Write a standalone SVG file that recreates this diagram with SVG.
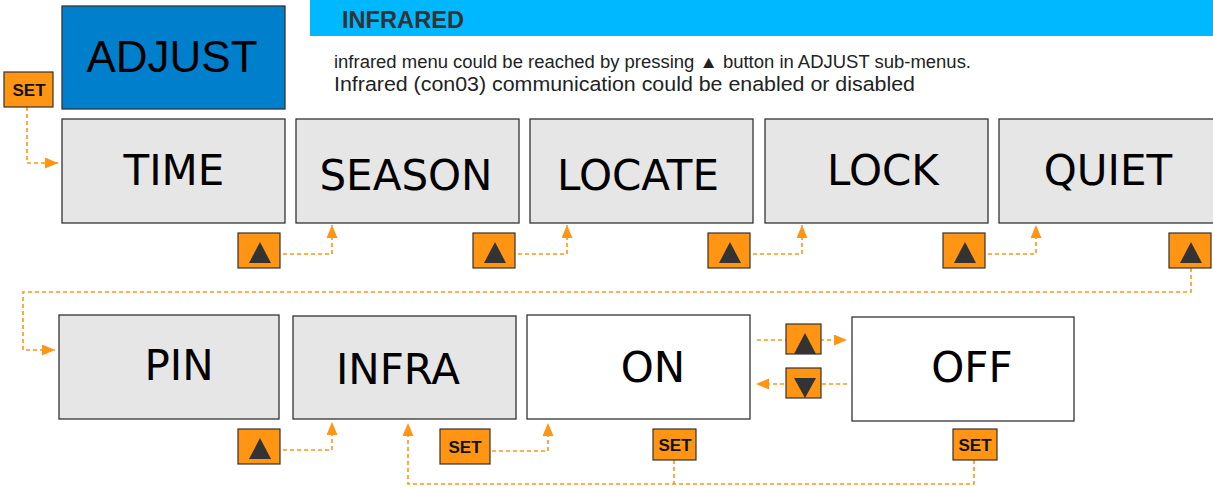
<svg xmlns="http://www.w3.org/2000/svg" width="1213" height="488" viewBox="0 0 1213 488">
<style>
.box{fill:#E6E6E6;stroke:#333;stroke-width:1.3}
.wbox{fill:#FFFFFF;stroke:#333;stroke-width:1.3}
.lbl{font-family:"DejaVu Sans",sans-serif;font-size:42px;fill:#000;text-anchor:middle}
.btn{fill:#FF9512;stroke:#333;stroke-width:1.2}
.tri{fill:#333}
.settxt{font-family:"Liberation Sans",Arial,sans-serif;font-weight:bold;font-size:17px;fill:#111;text-anchor:middle}
.con{fill:none;stroke:#FF9512;stroke-width:1.6;stroke-dasharray:4 3}
</style>
<defs>
<marker id="ah" markerUnits="userSpaceOnUse" markerWidth="14" markerHeight="12" refX="13" refY="5.5" orient="auto">
<path d="M0,0 L13,5.5 L0,11 z" fill="#FF9512"/>
</marker>
</defs>
<rect width="1213" height="488" fill="#FFFFFF"/>

<g id="header">
<rect x="310" y="0" width="903" height="36" fill="#00B8FF"/>
<text x="342" y="28" font-family="Liberation Sans, Arial, sans-serif" font-weight="bold" font-size="23" fill="#333" textLength="122" lengthAdjust="spacingAndGlyphs">INFRARED</text>
<text x="334" y="68" font-family="Liberation Sans, Arial, sans-serif" font-size="17.5" fill="#222" textLength="637" lengthAdjust="spacingAndGlyphs">infrared menu could be reached by pressing ▲ button in ADJUST sub-menus.</text>
<text x="334" y="91" font-family="Liberation Sans, Arial, sans-serif" font-size="20.5" fill="#222" textLength="581" lengthAdjust="spacingAndGlyphs">Infrared (con03) communication could be enabled or disabled</text>
</g>

<g id="connectors">
<path class="con" d="M27,107 V163 H58" marker-end="url(#ah)"/>
<path class="con" d="M283,254 H332 V225" marker-end="url(#ah)"/>
<path class="con" d="M518,254 H567 V225" marker-end="url(#ah)"/>
<path class="con" d="M753,254 H802 V225" marker-end="url(#ah)"/>
<path class="con" d="M988,254 H1036 V225" marker-end="url(#ah)"/>
<path class="con" d="M1191,268 V292 H23 V350 H55" marker-end="url(#ah)"/>
<path class="con" d="M283,450 H332 V422" marker-end="url(#ah)"/>
<path class="con" d="M492,451 H548 V423" marker-end="url(#ah)"/>
<path class="con" d="M974,460 V484 H408 V423" marker-end="url(#ah)"/>
<path class="con" d="M674,460 V484"/>
<path class="con" d="M757,340 H847" marker-end="url(#ah)"/>
<path class="con" d="M847,384 H756" marker-end="url(#ah)"/>
</g>

<g id="adjust">
<rect x="62" y="6" width="223" height="103" fill="#0080CC" stroke="#333" stroke-width="1.3"/>
<text x="172" y="72" font-family="Liberation Sans, Arial, sans-serif" font-size="44" fill="#000" text-anchor="middle">ADJUST</text>
</g>

<g id="set-adjust">
<rect class="btn" x="4" y="72" width="49" height="35"/>
<text class="settxt" x="29" y="96">SET</text>
</g>

<g id="time"><rect class="box" x="62" y="119" width="223" height="104"/><text class="lbl" x="174" y="185">TIME</text></g>
<g id="season"><rect class="box" x="296" y="119" width="223" height="104"/><text class="lbl" x="406" y="190" font-size="43">SEASON</text></g>
<g id="locate"><rect class="box" x="530" y="119" width="223" height="104"/><text class="lbl" x="638" y="190" font-size="43">LOCATE</text></g>
<g id="lock"><rect class="box" x="765" y="119" width="223" height="104"/><text class="lbl" x="883" y="185">LOCK</text></g>
<g id="quiet"><rect class="box" x="999" y="119" width="225" height="104"/><text class="lbl" x="1108" y="185">QUIET</text></g>

<g id="up1"><rect class="btn" x="238" y="233" width="42" height="35"/><polygon class="tri" points="260,242 271,263 249,263"/></g>
<g id="up2"><rect class="btn" x="473" y="233" width="42" height="35"/><polygon class="tri" points="495,242 506,263 484,263"/></g>
<g id="up3"><rect class="btn" x="708" y="233" width="42" height="35"/><polygon class="tri" points="730,242 741,263 719,263"/></g>
<g id="up4"><rect class="btn" x="943" y="233" width="42" height="35"/><polygon class="tri" points="965,242 976,263 954,263"/></g>
<g id="up5"><rect class="btn" x="1169" y="233" width="42" height="35"/><polygon class="tri" points="1191,242 1202,263 1180,263"/></g>

<g id="pin"><rect class="box" x="59" y="315" width="220" height="104"/><text class="lbl" x="179" y="380">PIN</text></g>
<g id="infra"><rect class="box" x="293" y="316" width="223" height="103"/><text class="lbl" x="398" y="384">INFRA</text></g>
<g id="on"><rect class="wbox" x="527" y="315" width="223" height="104"/><text class="lbl" x="653" y="382">ON</text></g>
<g id="off"><rect class="wbox" x="852" y="317" width="222" height="104"/><text class="lbl" x="972" y="382">OFF</text></g>

<g id="up6"><rect class="btn" x="238" y="429" width="42" height="35"/><polygon class="tri" points="260,438 271,459 249,459"/></g>
<g id="set-infra"><rect class="btn" x="440" y="429" width="50" height="35"/><text class="settxt" x="465" y="453">SET</text></g>
<g id="set-on"><rect class="btn" x="653" y="429" width="43" height="31"/><text class="settxt" x="675" y="451">SET</text></g>
<g id="set-off"><rect class="btn" x="953" y="429" width="44" height="31"/><text class="settxt" x="975" y="451">SET</text></g>

<g id="up-onoff"><rect class="btn" x="786" y="324" width="35" height="30"/><polygon class="tri" points="805,333 816,354 794,354"/></g>
<g id="down-onoff"><rect class="btn" x="786" y="368" width="35" height="30"/><polygon class="tri" points="794,378 816,378 805,398"/></g>
</svg>
